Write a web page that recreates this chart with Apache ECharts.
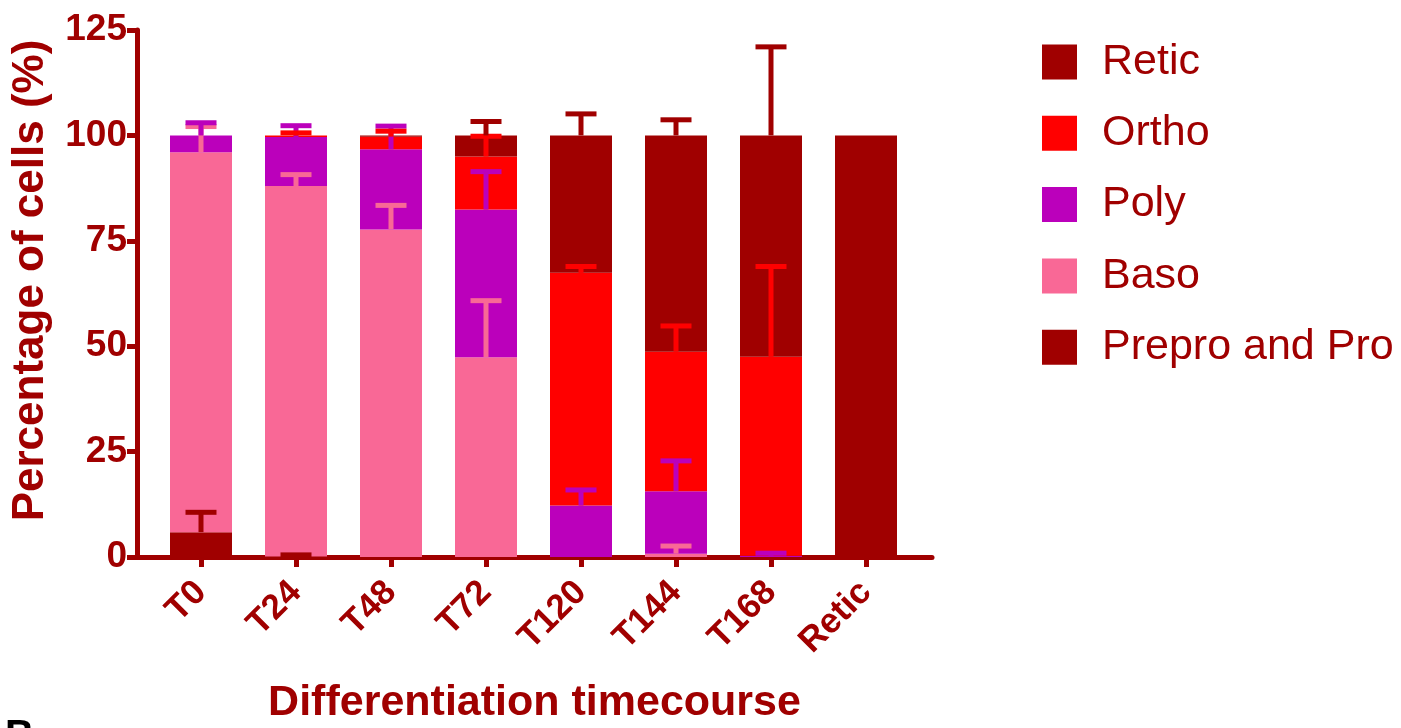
<!DOCTYPE html>
<html>
<head>
<meta charset="utf-8">
<title>Differentiation timecourse</title>
<script src="https://cdn.jsdelivr.net/npm/echarts@6/dist/echarts.min.js"></script>
<style>
  html, body { margin: 0; padding: 0; background: #ffffff; }
  #chart { width: 1401px; height: 728px; }
</style>
</head>
<body>
<div id="chart"></div>
<script>
// Stage composition (% of cells) at each time point, stacked bottom to top
const categories = ['T0', 'T24', 'T48', 'T72', 'T120', 'T144', 'T168', 'Retic'];
const yTicks = [0, 25, 50, 75, 100, 125];

const prepro = [5.9, 0.1, 0, 0, 0, 0, 0, 0];
const baso   = [90.1, 87.9, 77.7, 47.4, 0, 0.8, 0, 0];
const poly   = [4.0, 11.6, 19.0, 35.0, 12.2, 14.8, 0.3, 0];
const ortho  = [0, 0.4, 3.0, 12.6, 55.2, 33.1, 47.2, 0];
const retic  = [0, 0, 0.3, 5.0, 32.6, 51.3, 52.5, 100];

// Standard deviations (drawn upward only); null = no error bar
const preproSD = [4.7, 0.4, null, null, null, null, null, null];
const basoSD   = [6.1, 2.7, 5.7, 13.4, null, 1.8, null, null];
const polySD   = [3.0, 2.7, 5.5, 9.0, 3.7, 7.2, 0.6, null];
const orthoSD  = [null, 0.6, 1.3, 4.8, 1.5, 6.1, 21.4, null];
const reticSD  = [null, null, null, 3.3, 5.1, 3.7, 21.0, null];

const DARK = '#a00000', PINK = '#f96896', PURPLE = '#bb00bb', RED = '#ff0000';
const FONT = '"Liberation Sans", Arial, sans-serif';

const layers = [
  { name: 'Prepro and Pro', values: prepro, sd: preproSD, color: DARK },
  { name: 'Baso',           values: baso,   sd: basoSD,   color: PINK },
  { name: 'Poly',           values: poly,   sd: polySD,   color: PURPLE },
  { name: 'Ortho',          values: ortho,  sd: orthoSD,  color: RED },
  { name: 'Retic',          values: retic,  sd: reticSD,  color: DARK }
];

// cumulative top of each stacked segment
const running = categories.map(() => 0);
const tops = layers.map(layer => layer.values.map((v, i) => (running[i] += v)));

const barSeries = layers.map(layer => ({
  name: layer.name,
  type: 'bar',
  stack: 'cells',
  xAxisIndex: 1,
  yAxisIndex: 1,
  barWidth: 62,
  itemStyle: { color: layer.color },
  emphasis: { disabled: true },
  data: layer.values
}));

function errorRenderer(color) {
  return function (params, api) {
    const base = api.coord([api.value(0), api.value(1)]);
    const tip = api.coord([api.value(0), api.value(2)]);
    const half = 15.5;
    return {
      type: 'group',
      children: [
        { type: 'line', shape: { x1: base[0], y1: base[1], x2: tip[0], y2: tip[1] },
          style: { stroke: color, lineWidth: 5 } },
        { type: 'line', shape: { x1: tip[0] - half, y1: tip[1], x2: tip[0] + half, y2: tip[1] },
          style: { stroke: color, lineWidth: 5 } }
      ]
    };
  };
}

const errorSeries = layers.map((layer, k) => ({
  name: layer.name + ' SD',
  type: 'custom',
  xAxisIndex: 1,
  yAxisIndex: 1,
  z: 5,
  silent: true,
  renderItem: errorRenderer(layer.color),
  data: layer.sd
    .map((sd, i) => sd == null ? null : [i, tops[k][i], tops[k][i] + sd])
    .filter(d => d !== null)
}));

const chart = echarts.init(document.getElementById('chart'));
chart.setOption({
  animation: false,
  backgroundColor: '#ffffff',
  title: {
    text: 'B',
    left: 0,
    top: 712,
    textStyle: { fontFamily: FONT, fontSize: 40, fontWeight: 'bold', color: '#000000' }
  },
  legend: {
    orient: 'vertical',
    left: 1037,
    top: 35.5,
    icon: 'rect',
    itemWidth: 35,
    itemHeight: 35,
    itemGap: 28.3,
    selectedMode: false,
    data: ['Retic', 'Ortho', 'Poly', 'Baso', 'Prepro and Pro'],
    textStyle: { fontFamily: FONT, fontSize: 43, color: DARK, padding: [0, 0, 0, 20] }
  },
  grid: [
    { left: 137, right: 469, top: 30, bottom: 171, outerBoundsMode: 'none', containLabel: false },
    { left: 153.5, right: 487.5, top: 30, bottom: 171, outerBoundsMode: 'none', containLabel: false }
  ],
  xAxis: [
    {
      type: 'value', gridIndex: 0, min: 0, max: 1,
      name: 'Differentiation timecourse',
      nameLocation: 'middle',
      nameGap: 125,
      nameTextStyle: { fontFamily: FONT, fontSize: 43, fontWeight: 'bold', color: DARK },
      axisLine: { show: true, onZero: false, lineStyle: { color: DARK, width: 5 } },
      axisTick: { show: false },
      axisLabel: { show: false },
      splitLine: { show: false }
    },
    {
      type: 'category', gridIndex: 1, data: categories,
      axisLine: { show: false, onZero: false },
      axisTick: { show: true, alignWithLabel: true, length: 10, lineStyle: { color: DARK, width: 5 } },
      axisLabel: { interval: 0, rotate: 45, margin: 30, fontFamily: FONT, fontSize: 35, fontWeight: 'bold', color: DARK },
      splitLine: { show: false }
    }
  ],
  yAxis: [
    {
      type: 'value', gridIndex: 0, min: yTicks[0], max: yTicks[yTicks.length - 1], interval: 25,
      name: 'Percentage of cells (%)',
      nameLocation: 'middle',
      nameGap: 84,
      nameTextStyle: { fontFamily: FONT, fontSize: 44, fontWeight: 'bold', color: DARK, padding: [0, 0, 0, 26] },
      axisLine: { show: true, onZero: false, lineStyle: { color: DARK, width: 5 } },
      axisTick: { show: true, length: 10, lineStyle: { color: DARK, width: 5 } },
      axisLabel: { margin: 10, fontFamily: FONT, fontSize: 37, fontWeight: 'bold', color: DARK },
      splitLine: { show: false }
    },
    {
      type: 'value', gridIndex: 1, min: yTicks[0], max: yTicks[yTicks.length - 1], interval: 25,
      show: false, splitLine: { show: false }
    }
  ],
  series: barSeries.concat(errorSeries)
});
</script>
</body>
</html>
